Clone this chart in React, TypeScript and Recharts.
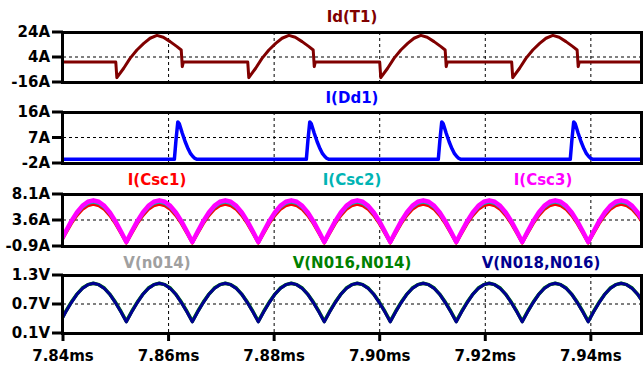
import React from "react";
import { LineChart, Line, XAxis, YAxis, CartesianGrid } from "recharts";

const T_START = 7.84;
const T_END = 7.9495;
const timeTicks = [7.84, 7.86, 7.88, 7.9, 7.92, 7.94];
const gridTimes = [7.86, 7.88, 7.9, 7.92, 7.94];

// Id(T1): one switching pulse, offsets in us from the turn-on edge
const t1PulseStarts = [7.85, 7.875, 7.9, 7.925];
const t1PulseOffsets = [0, 0.2, 1.5, 2.7, 4.0, 5.3, 6.5, 7.8, 9.0, 10.3, 11.6, 12.4, 12.6, 12.8];
const t1PulseValues = [0, -12.5, -5.0, 2.9, 9.6, 14.9, 19.0, 21.3, 19.8, 16.3, 12.3, 9.6, -3.7, 0];
const t1Idle = 0;
const t1Ticks = [-16, 4, 24];

// I(Dd1): freewheel spike
const dd1SpikeStarts = [7.8611, 7.8861, 7.9111, 7.9361];
const dd1SpikeOffsets = [0, 0.3, 0.65, 0.95, 1.5, 2.05, 2.6, 3.0, 3.5, 3.9, 4.3];
const dd1SpikeValues = [-0.7, 6.0, 12.5, 11.8, 8.5, 5.5, 3.0, 1.5, 0.3, -0.4, -0.7];
const dd1Idle = -0.7;
const dd1Ticks = [-2, 7, 16];

// rectified humps, offsets in us from each minimum
const humpMinima = [7.8395, 7.852, 7.8645, 7.877, 7.8895, 7.902, 7.9145, 7.927, 7.9395, 7.952];
const humpOffsets = [0, 1.04, 2.08, 3.13, 4.17, 5.21, 6.25, 7.29, 8.33, 9.38, 10.42, 11.46];
const csc1Hump = [-0.4, 1.3, 2.95, 4.35, 5.4, 6.05, 6.3, 6.05, 5.4, 4.35, 2.95, 1.3];
const csc2Hump = [-0.3, 1.5, 3.2, 4.65, 5.75, 6.45, 6.7, 6.45, 5.75, 4.65, 3.2, 1.5];
const csc3Hump = [-0.2, 1.65, 3.4, 4.9, 6.05, 6.75, 7.0, 6.75, 6.05, 4.9, 3.4, 1.65];
const cscTicks = [-0.9, 3.6, 8.1];

const n014Hump = [0.34, 0.55, 0.73, 0.9, 1.02, 1.1, 1.12, 1.1, 1.02, 0.9, 0.73, 0.55];
const n016Hump = [0.34, 0.55, 0.74, 0.9, 1.03, 1.1, 1.13, 1.1, 1.03, 0.9, 0.74, 0.55];
const n018Hump = [0.33, 0.54, 0.73, 0.9, 1.02, 1.1, 1.13, 1.1, 1.02, 0.9, 0.73, 0.54];
const vTicks = [0.1, 0.7, 1.3];

function pulseTrain(starts: number[], offsets: number[], values: number[], idle: number) {
  const rows = [{ t: T_START, v: idle }];
  starts.forEach((s) => offsets.forEach((o, i) => rows.push({ t: s + o / 1000, v: values[i] })));
  rows.push({ t: T_END, v: idle });
  return rows;
}

function humpTable(series: Record<string, number[]>) {
  const rows: Record<string, number>[] = [];
  humpMinima.forEach((m, k) => {
    const offs = k === humpMinima.length - 1 ? [0] : humpOffsets;
    offs.forEach((o, i) => {
      const row: Record<string, number> = { t: m + o / 1000 };
      Object.keys(series).forEach((key) => (row[key] = series[key][i]));
      rows.push(row);
    });
  });
  return rows;
}

const t1Data = pulseTrain(t1PulseStarts, t1PulseOffsets, t1PulseValues, t1Idle);
const dd1Data = pulseTrain(dd1SpikeStarts, dd1SpikeOffsets, dd1SpikeValues, dd1Idle);
const cscData = humpTable({ csc1: csc1Hump, csc2: csc2Hump, csc3: csc3Hump });
const vData = humpTable({ n014: n014Hump, n016: n016Hump, n018: n018Hump });

const FONT = "'DejaVu Sans', Verdana, sans-serif";
const tickStyle = { fill: "#000", fontSize: 15, fontWeight: "bold", fontFamily: FONT };

interface PaneProps {
  top: number;
  bottom: number;
  data: Record<string, number>[];
  ticks: number[];
  unit: string;
  showTime?: boolean;
  lines: { key: string; color: string; width: number }[];
}

function Pane({ top, bottom, data, ticks, unit, showTime, lines }: PaneProps) {
  const h = bottom - top;
  const axisH = showTime ? 32 : 0;
  return (
    <>
      <div style={{ position: "absolute", left: 0, top: top - 10 }}>
        <LineChart
          width={644}
          height={h + 10 + (showTime ? 0 : 10) + axisH}
          data={data}
          margin={{ top: 10, right: 3, bottom: showTime ? 0 : 10, left: 0 }}
        >
          <CartesianGrid
            stroke="#000"
            strokeDasharray="3 3"
            horizontalValues={[ticks[1]]}
            verticalValues={gridTimes}
          />
          <XAxis
            type="number"
            dataKey="t"
            domain={[T_START, T_END]}
            allowDataOverflow
            ticks={timeTicks}
            interval={0}
            hide={!showTime}
            height={axisH}
            tickSize={8}
            tickMargin={9}
            axisLine={false}
            tickLine={{ stroke: "#000", strokeWidth: 3 }}
            tick={tickStyle}
            tickFormatter={(v: number) => `${v.toFixed(2)}ms`}
          />
          <YAxis
            type="number"
            domain={[ticks[0], ticks[2]]}
            allowDataOverflow
            ticks={ticks}
            interval={0}
            width={63}
            tickSize={11}
            tickMargin={2}
            axisLine={false}
            tickLine={{ stroke: "#000", strokeWidth: 3 }}
            tick={tickStyle}
            tickFormatter={(v: number) => `${v}${unit}`}
          />
          {lines.map((l) => (
            <Line
              key={l.key}
              type="linear"
              dataKey={l.key}
              stroke={l.color}
              strokeWidth={l.width}
              strokeLinejoin="round"
              dot={false}
              isAnimationActive={false}
            />
          ))}
        </LineChart>
      </div>
      <div
        style={{
          position: "absolute",
          left: 61,
          top: top - 1,
          width: 582,
          height: h + 3,
          border: "3px solid #000",
          boxSizing: "border-box",
          pointerEvents: "none",
        }}
      />
    </>
  );
}

const titles = [
  { text: "Id(T1)", x: 352, y: 22, color: "#800000" },
  { text: "I(Dd1)", x: 352, y: 103, color: "#0000ff" },
  { text: "I(Csc1)", x: 157, y: 185, color: "#ff0000" },
  { text: "I(Csc2)", x: 352, y: 185, color: "#00b4b4" },
  { text: "I(Csc3)", x: 543, y: 185, color: "#ff00ff" },
  { text: "V(n014)", x: 157, y: 268, color: "#a0a0a0" },
  { text: "V(N016,N014)", x: 352, y: 268, color: "#008000" },
  { text: "V(N018,N016)", x: 541, y: 268, color: "#000090" },
];

export default function App() {
  return (
    <div style={{ position: "absolute", left: 0, top: 0, width: 644, height: 365, background: "#fff", overflow: "hidden" }}>
      <Pane top={32} bottom={82} data={t1Data} ticks={t1Ticks} unit="A"
        lines={[{ key: "v", color: "#800000", width: 3 }]} />
      <Pane top={112} bottom={163} data={dd1Data} ticks={dd1Ticks} unit="A"
        lines={[{ key: "v", color: "#0000ff", width: 3.5 }]} />
      <Pane top={194} bottom={246} data={cscData} ticks={cscTicks} unit="A"
        lines={[
          { key: "csc1", color: "#ff0000", width: 3 },
          { key: "csc2", color: "#00b4b4", width: 3 },
          { key: "csc3", color: "#ff00ff", width: 4.5 },
        ]} />
      <Pane top={275} bottom={333} data={vData} ticks={vTicks} unit="V" showTime
        lines={[
          { key: "n014", color: "#a0a0a0", width: 3 },
          { key: "n016", color: "#008000", width: 3.5 },
          { key: "n018", color: "#000090", width: 3 },
        ]} />
      <svg width={644} height={365} style={{ position: "absolute", left: 0, top: 0, pointerEvents: "none" }}>
        {titles.map((t) => (
          <text key={t.text} x={t.x} y={t.y} fill={t.color} textAnchor="middle"
            style={{ fontFamily: FONT, fontSize: 15, fontWeight: "bold" }}>
            {t.text}
          </text>
        ))}
      </svg>
    </div>
  );
}
